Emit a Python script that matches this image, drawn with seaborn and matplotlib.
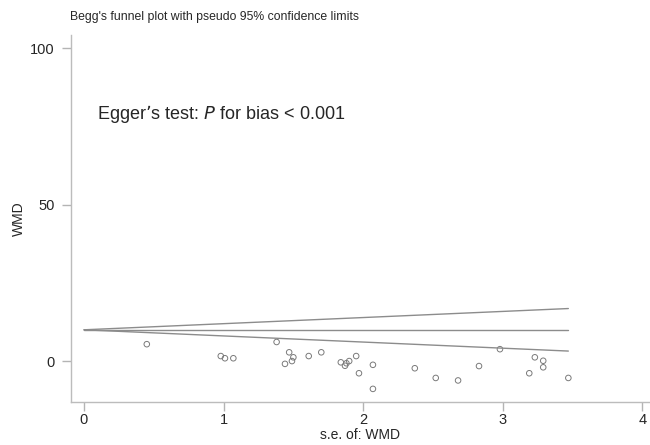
import numpy as np
import pandas as pd
import matplotlib
matplotlib.use("Agg")
import matplotlib.pyplot as plt
import seaborn as sns

# study standard errors and effect sizes (WMD)
se = [0.45, 0.98, 1.01, 1.07, 1.38, 1.47, 1.44, 1.49, 1.50, 1.61, 1.70,
      1.84, 1.87, 1.88, 1.90, 1.95, 1.97, 2.07, 2.07, 2.37, 2.52, 2.68,
      2.83, 2.98, 3.19, 3.23, 3.29, 3.29, 3.47]
wmd = [5.4, 1.6, 0.9, 0.9, 6.1, 2.8, -0.9, 0.0, 1.2, 1.6, 2.8,
       -0.4, -1.5, -0.7, 0.0, 1.6, -3.9, -1.2, -8.9, -2.3, -5.4, -6.2,
       -1.6, 3.8, -3.9, 1.2, 0.1, -2.0, -5.4]
pooled = 10.0
se_max = 3.47

studies = pd.DataFrame({"se": se, "wmd": wmd})
se_line = np.array([0.0, se_max])
limits = pd.DataFrame({
    "se": np.tile(se_line, 3),
    "wmd": np.concatenate([pooled + 1.96 * se_line,
                           np.full(2, pooled),
                           pooled - 1.96 * se_line]),
    "line": ["upper"] * 2 + ["pooled"] * 2 + ["lower"] * 2,
})

sns.set_style("ticks")
plt.rcParams["font.family"] = ["Liberation Sans", "DejaVu Sans"]

fig = plt.figure(figsize=(6.5, 4.45), dpi=100)
ax = fig.add_axes([0.1088, 0.0966, 0.8912, 0.8247])

sns.lineplot(data=limits, x="se", y="wmd", units="line", estimator=None,
             color="#8c8c8c", linewidth=1.0, ax=ax)
sns.scatterplot(data=studies, x="se", y="wmd", marker="o", s=16,
                facecolor="none", edgecolor="#7a7a7a", linewidth=0.7, ax=ax)

ax.set_xlim(-0.095, 4.055)
ax.set_ylim(-13.1, 104.3)
ax.set_xticks([0, 1, 2, 3, 4])
ax.set_yticks([0, 50, 100])
ax.set_xlabel("s.e. of: WMD", fontsize=10, labelpad=1)
ax.set_ylabel("WMD", fontsize=10, labelpad=3)
ax.tick_params(axis="both", labelsize=10.5, color="#b4b4b4", length=6.3,
               width=1)
ax.tick_params(axis="x", pad=1.5)
ax.tick_params(axis="y", pad=5.5)
for side in ["top", "right"]:
    ax.spines[side].set_visible(False)
for side in ["left", "bottom"]:
    ax.spines[side].set_color("#bcbcbc")
    ax.spines[side].set_linewidth(1.0)

fig.text(70 / 650, 1 - 17 / 445, "Begg's funnel plot with pseudo 95% confidence limits",
         fontsize=8.8, va="center", ha="left")
ax.text(0.09, 79, "Egger\u2019s test: $\\mathit{P}$ for bias < 0.001",
        fontsize=13, va="center", ha="left")

fig.savefig("out.png", dpi=100)
